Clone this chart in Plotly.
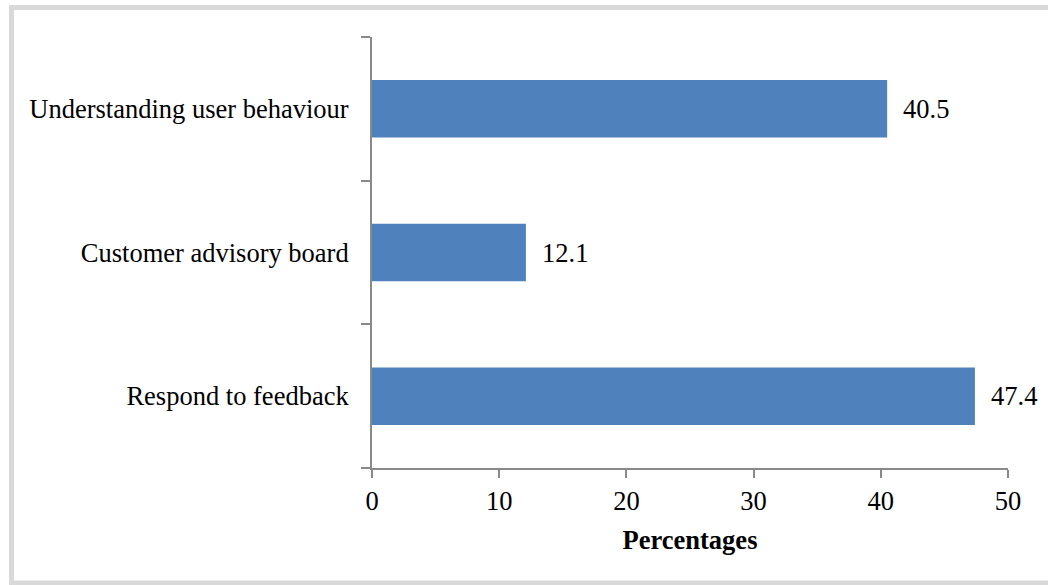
import plotly.graph_objects as go

categories = ["Respond to feedback", "Customer advisory board", "Understanding user behaviour"]
percentages = [47.4, 12.1, 40.5]
x_ticks = [0, 10, 20, 30, 40, 50]

FONT = "Liberation Serif"
FS = 26.5
AXIS_GRAY = "#898989"
FRAME_GRAY = "#D9D9D9"

W, H = 1048, 585
L, R, T, B = 372, 40, 37, 117
pw, ph = W - L - R, H - T - B

fig = go.Figure(
    go.Bar(
        x=percentages,
        y=categories,
        orientation="h",
        marker=dict(color="#4F81BD", line=dict(width=0)),
        width=0.4,
        hoverinfo="x+y",
    )
)

# value labels to the right of each bar
for cat, val in zip(categories, percentages):
    fig.add_annotation(
        x=val, y=cat, text=f"{val:.1f}", showarrow=False,
        xanchor="left", yanchor="middle", xshift=14,
        font=dict(family=FONT, size=FS, color="#000000"),
    )

# light gray frame around the chart: top, left and bottom edges
def px_to_paper_x(px):
    return (px - L) / pw

def px_to_paper_y(py):
    return (H - B - py) / ph

fx0 = px_to_paper_x(11.5)
fx1 = px_to_paper_x(W + 10)
fy_top, fy_bot = px_to_paper_y(7.5), px_to_paper_y(583)
for x0, y0, x1, y1 in [
    (fx0 - 2.5 / pw, fy_top, fx1, fy_top),
    (fx0, fy_top, fx0, fy_bot),
    (fx0 - 2.5 / pw, fy_bot, fx1, fy_bot),
]:
    fig.add_shape(
        type="line", xref="paper", yref="paper",
        x0=x0, y0=y0, x1=x1, y1=y1,
        line=dict(color=FRAME_GRAY, width=5), layer="below",
    )

fig.update_layout(
    width=W, height=H,
    margin=dict(l=L, r=R, t=T, b=B, autoexpand=False),
    paper_bgcolor="white", plot_bgcolor="white",
    showlegend=False,
    font=dict(family=FONT, size=FS, color="#000000"),
    xaxis=dict(
        range=[0, 50], tickvals=x_ticks, ticktext=[str(v) for v in x_ticks],
        showgrid=False, zeroline=False,
        showline=True, linecolor=AXIS_GRAY, linewidth=2,
        ticks="outside", ticklen=8, tickwidth=2, tickcolor=AXIS_GRAY,
        tickfont=dict(family=FONT, size=FS, color="#000000"),
        title=dict(text="<b>Percentages</b>", font=dict(family=FONT, size=FS, color="#000000"), standoff=16),
        fixedrange=True,
    ),
    yaxis=dict(
        type="category", categoryorder="array", categoryarray=categories,
        showgrid=False, zeroline=False,
        showline=True, linecolor=AXIS_GRAY, linewidth=2,
        ticks="outside", tickson="boundaries", ticklen=9, tickwidth=2, tickcolor=AXIS_GRAY,
        tickfont=dict(family=FONT, size=FS, color="#000000"),
        ticklabelstandoff=16,
        fixedrange=True,
    ),
)

fig.write_html("out.html")
